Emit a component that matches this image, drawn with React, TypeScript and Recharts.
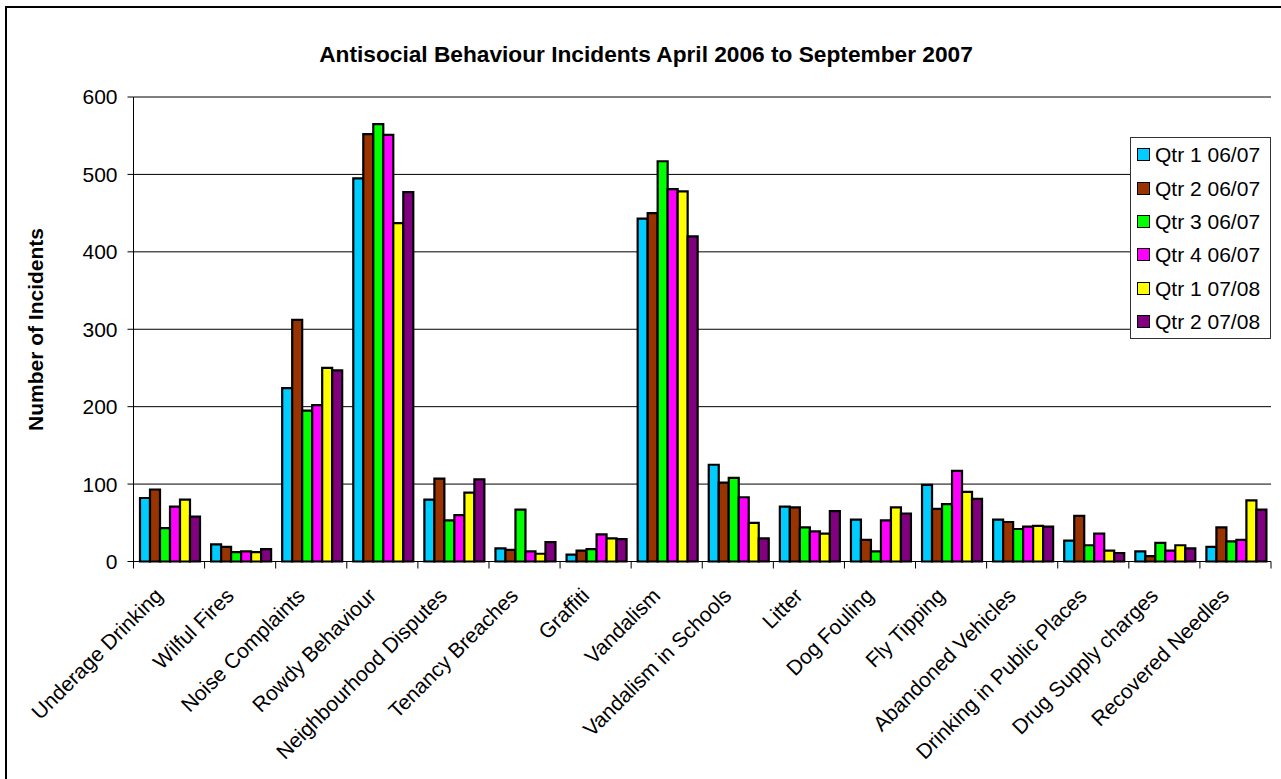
import React from "react";
import { BarChart, Bar, XAxis, YAxis, CartesianGrid, Legend } from "recharts";

// Incident categories along the x axis
const categories = [
  "Underage Drinking",
  "Wilful Fires",
  "Noise Complaints",
  "Rowdy Behaviour",
  "Neighbourhood Disputes",
  "Tenancy Breaches",
  "Graffiti",
  "Vandalism",
  "Vandalism in Schools",
  "Litter",
  "Dog Fouling",
  "Fly Tipping",
  "Abandoned Vehicles",
  "Drinking in Public Places",
  "Drug Supply charges",
  "Recovered Needles",
];

// Quarterly incident counts, one entry per category
const qtr1_0607 = [82, 22, 224, 495, 80, 17, 9, 443, 125, 71, 54, 99, 54, 27, 13, 19];
const qtr2_0607 = [93, 19, 312, 552, 107, 15, 14, 450, 102, 70, 28, 68, 51, 59, 7, 44];
const qtr3_0607 = [43, 12, 195, 565, 53, 67, 16, 517, 108, 44, 13, 74, 42, 21, 24, 26];
const qtr4_0607 = [71, 13, 202, 551, 60, 13, 35, 481, 83, 39, 53, 117, 45, 36, 14, 28];
const qtr1_0708 = [80, 12, 250, 437, 89, 10, 30, 478, 50, 36, 70, 90, 46, 14, 21, 79];
const qtr2_0708 = [58, 16, 247, 477, 106, 25, 29, 420, 30, 65, 62, 81, 45, 11, 17, 67];

const seriesNames = [
  "Qtr 1 06/07",
  "Qtr 2 06/07",
  "Qtr 3 06/07",
  "Qtr 4 06/07",
  "Qtr 1 07/08",
  "Qtr 2 07/08",
];
const seriesValues = [qtr1_0607, qtr2_0607, qtr3_0607, qtr4_0607, qtr1_0708, qtr2_0708];
const seriesColors = ["#00CCFF", "#993300", "#00FF00", "#FF00FF", "#FFFF00", "#800080"];

const yTicks = [0, 100, 200, 300, 400, 500, 600];

const title = "Antisocial Behaviour Incidents April 2006 to September 2007";
const yTitle = "Number of Incidents";

const data = categories.map((name, i) => {
  const row: Record<string, string | number> = { name };
  seriesNames.forEach((s, k) => {
    row[s] = seriesValues[k][i];
  });
  return row;
});

// Layout
const W = 1281;
const H = 779;
const PLOT_LEFT = 133.5;
const PLOT_RIGHT = 1271;
const PLOT_TOP = 97;
const PLOT_BOTTOM = 561.5;
const HALF_BAND = (PLOT_RIGHT - PLOT_LEFT) / categories.length / 2;
const FONT = "'Liberation Sans', Arial, sans-serif";

function CategoryTick(props: any) {
  const { x, payload, index } = props;
  const tx = x - 5;
  const ty = 597;
  return (
    <g>
      <line x1={x - HALF_BAND} x2={x - HALF_BAND} y1={PLOT_BOTTOM} y2={PLOT_BOTTOM + 7} stroke="#000" strokeWidth={1} />
      {index === categories.length - 1 && (
        <line x1={x + HALF_BAND} x2={x + HALF_BAND} y1={PLOT_BOTTOM} y2={PLOT_BOTTOM + 7} stroke="#000" strokeWidth={1} />
      )}
      <text
        x={tx}
        y={ty}
        transform={`rotate(-45 ${tx} ${ty})`}
        textAnchor="end"
        fontSize={21}
        fontFamily={FONT}
        fill="#000"
      >
        {payload.value}
      </text>
    </g>
  );
}

function LegendBox() {
  return (
    <div
      style={{
        position: "absolute",
        left: 1130,
        top: 137,
        width: 141,
        height: 202,
        border: "1px solid #333",
        background: "#fff",
        boxSizing: "border-box",
        fontFamily: FONT,
        fontSize: 21,
        color: "#000",
      }}
    >
      {seriesNames.map((s, k) => (
        <div key={s} style={{ height: 33.4, display: "flex", alignItems: "center", paddingLeft: 6 }}>
          <span
            style={{
              display: "inline-block",
              width: 11,
              height: 11,
              background: seriesColors[k],
              border: "1.5px solid #000",
              marginRight: 5,
            }}
          />
          <span style={{ whiteSpace: "nowrap", lineHeight: "21px" }}>{s}</span>
        </div>
      ))}
    </div>
  );
}

export default function App() {
  return (
    <div style={{ position: "absolute", left: 0, top: 0, width: W, height: H, overflow: "hidden", background: "#fff" }}>
      <div
        style={{
          position: "absolute",
          left: 5,
          top: 6,
          width: 1300,
          height: 800,
          border: "2px solid #000",
        }}
      />
      <div style={{ position: "absolute", left: 0, top: 0 }}>
        <BarChart
          width={W}
          height={H}
          data={data}
          margin={{ top: PLOT_TOP, right: W - PLOT_RIGHT, bottom: 0, left: 0 }}
          barCategoryGap={6.5}
          barGap={0}
        >
          <CartesianGrid vertical={false} stroke="#000" strokeWidth={1} />
          <XAxis
            dataKey="name"
            interval={0}
            height={H - PLOT_BOTTOM}
            tickLine={false}
            axisLine={{ stroke: "#000", strokeWidth: 1 }}
            tick={<CategoryTick />}
          />
          <YAxis
            width={PLOT_LEFT}
            domain={[0, 600]}
            ticks={yTicks}
            interval={0}
            tickSize={6}
            tickMargin={10}
            axisLine={{ stroke: "#000", strokeWidth: 1 }}
            tickLine={{ stroke: "#000", strokeWidth: 1 }}
            tick={{ fill: "#000", fontSize: 21, fontFamily: FONT }}
          />
          <Legend content={() => <LegendBox />} wrapperStyle={{ position: "absolute", left: 0, top: 0, width: 0, height: 0 }} />
          {seriesNames.map((s, k) => (
            <Bar
              key={s}
              dataKey={s}
              fill={seriesColors[k]}
              stroke="#000"
              strokeWidth={2.2}
              isAnimationActive={false}
            />
          ))}
        </BarChart>
      </div>
      <svg width={W} height={H} style={{ position: "absolute", left: 0, top: 0, pointerEvents: "none" }}>
        <text x={646} y={62} textAnchor="middle" fontSize={22.7} fontWeight="bold" fontFamily={FONT} fill="#000">
          {title}
        </text>
        <text
          x={43}
          y={329.5}
          transform="rotate(-90 43 329.5)"
          textAnchor="middle"
          fontSize={21}
          fontWeight="bold"
          fontFamily={FONT}
          fill="#000"
        >
          {yTitle}
        </text>
      </svg>
    </div>
  );
}
